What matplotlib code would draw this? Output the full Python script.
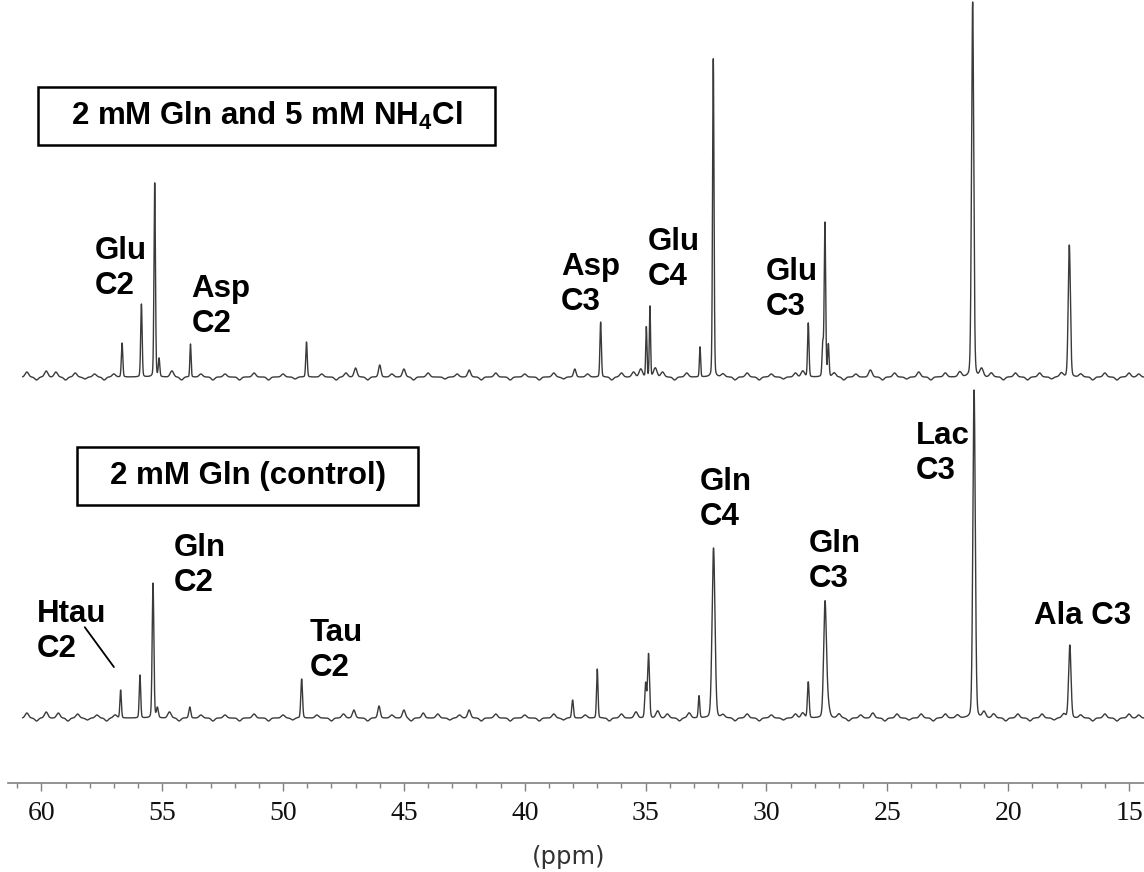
import numpy as np
import matplotlib
matplotlib.use("Agg")
import matplotlib.pyplot as plt
from matplotlib.patches import Rectangle
from matplotlib.ticker import MultipleLocator

# ---------------- data ----------------
# upper spectrum: 2 mM Gln and 5 mM NH4Cl
top_peak_ppm = [56.66, 55.86, 55.31, 55.13, 53.83, 49.03, 47.0, 46.0, 45.0, 42.3,
                37.93, 36.86, 34.97, 34.82, 32.75, 32.20, 28.27, 27.67, 27.58, 27.44,
                21.47, 17.47]
top_peak_int = [34, 73, 194, 18, 33, 35, 9, 12, 8, 7,
                8, 55, 50, 71, 30, 319, 54, 32, 154, 32,
                375, 132]
top_peak_w = [0.03, 0.03, 0.03, 0.03, 0.025, 0.03, 0.06, 0.05, 0.06, 0.06,
              0.05, 0.03, 0.025, 0.025, 0.025, 0.03, 0.03, 0.03, 0.03, 0.03,
              0.045, 0.045]
top_minor_ppm = [60.6, 60.2, 59.8, 59.4, 59.0, 58.6, 58.2, 57.8, 57.4, 57.0, 54.6, 54.2,
                 53.4, 52.9, 52.4, 51.8, 51.2, 50.6, 50.0, 49.5, 48.4, 47.8, 47.4, 46.5,
                 45.5, 44.6, 44.0, 43.3, 42.8, 41.8, 41.2, 40.6, 40.0, 39.4, 38.8, 38.4,
                 37.4, 36.4, 36.0, 35.5, 35.2, 34.6, 34.3, 33.8, 33.3, 31.8, 31.3, 30.8,
                 30.3, 29.8, 29.3, 28.8, 28.5, 27.2, 26.8, 26.3, 25.7, 25.2, 24.7, 24.2,
                 23.7, 23.2, 22.6, 22.0, 21.1, 20.7, 20.2, 19.7, 19.2, 18.7, 18.2, 17.8,
                 17.0, 16.5, 16.0, 15.5, 15.0, 14.6]
top_minor_int = [5, -3, 6, 5, -3, 4, -2, 3, -3, 3, 6, -3,
                 3, -3, 3, -3, 4, -3, 3, -2, 3, -3, 4, -3,
                 3, -3, 4, -2, 3, -3, 4, -3, 3, -3, 4, -2,
                 3, -3, 4, 5, 8, 9, 5, -3, 4, 3, -3, 4,
                 -3, 3, -2, 4, 6, 4, -3, 3, 7, -3, 4, -2,
                 5, -3, 4, 5, 8, 4, -3, 4, -3, 4, -2, 4,
                 3, -3, 4, -3, 4, 3]

# lower spectrum: 2 mM Gln (control)
bot_peak_ppm = [56.72, 55.92, 55.38, 55.20, 53.86, 49.23, 47.07, 46.03, 45.0, 44.2,
                42.3, 38.02, 37.0, 35.0, 34.88, 32.79, 32.19, 28.27, 27.58, 27.50,
                21.41, 17.45]
bot_peak_int = [28, 43, 135, 10, 11, 39, 8, 12, 8, 5,
                8, 18, 49, 34, 64, 22, 170, 36, 105, 20,
                328, 73]
bot_peak_w = [0.03, 0.03, 0.035, 0.04, 0.04, 0.035, 0.06, 0.05, 0.06, 0.06,
              0.06, 0.035, 0.03, 0.035, 0.04, 0.03, 0.06, 0.035, 0.055, 0.08,
              0.05, 0.05]
bot_minor_ppm = [60.6, 60.2, 59.8, 59.3, 58.9, 58.5, 58.1, 57.7, 57.3, 56.95, 54.7, 54.3,
                 53.4, 52.9, 52.4, 51.8, 51.2, 50.6, 50.0, 49.6, 48.6, 48.0, 47.5, 46.5,
                 45.5, 44.7, 43.6, 43.1, 42.7, 41.8, 41.2, 40.6, 40.0, 39.4, 38.8, 38.4,
                 37.5, 36.5, 36.0, 35.4, 34.5, 34.1, 33.6, 33.2, 31.8, 31.3, 30.8, 30.3,
                 29.8, 29.3, 28.8, 28.5, 27.0, 26.6, 26.1, 25.6, 25.1, 24.6, 24.1, 23.6,
                 23.1, 22.6, 22.1, 21.0, 20.6, 20.1, 19.6, 19.1, 18.6, 18.1, 17.7, 17.0,
                 16.5, 16.0, 15.5, 15.0, 14.6]
bot_minor_int = [5, -3, 6, 5, -3, 4, -2, 3, -3, 3, 6, -3,
                 3, -3, 3, -3, 4, -3, 3, -2, 3, -3, 4, -3,
                 3, -3, 4, -2, 3, -3, 4, -3, 3, -3, 4, -2,
                 3, -3, 4, 6, 7, 4, -3, 5, 3, -3, 4, -3,
                 3, -2, 4, 5, 4, -3, 3, 5, -3, 4, -2, 4,
                 -3, 4, 3, 6, 4, -3, 4, -3, 4, -2, 4, 3,
                 -3, 4, -3, 4, 3]

tick_values = [60, 55, 50, 45, 40, 35, 30, 25, 20, 15]

# label text, left edge (ppm), baseline of last line (intensity units)
top_labels = [("Glu\nC2", 57.79, 489), ("Asp\nC2", 53.79, 451), ("Asp\nC3", 38.51, 473),
              ("Glu\nC4", 34.92, 498), ("Glu\nC3", 30.02, 468)]
bot_labels = [("Htau\nC2", 60.18, 126), ("Gln\nC2", 54.52, 192), ("Tau\nC2", 48.89, 107),
              ("Gln\nC4", 32.78, 258), ("Gln\nC3", 28.23, 196), ("Lac\nC3", 23.81, 304),
              ("Ala C3", 18.93, 159)]

# ---------------- drawing ----------------
W, H = 1144, 872
fig = plt.figure(figsize=(W / 100, H / 100), dpi=100)
fig.patch.set_facecolor("white")

axis_px = 783
ax = fig.add_axes([8 / W, (H - axis_px) / H, (W - 8) / W, axis_px / H])
ax.set_xlim(61.38, 14.38)
ax.set_ylim(0, axis_px)

ppm = np.arange(60.77, 14.38, -0.004)


def lineshape(p, h, s, eta=0.15):
    g = np.exp(-0.5 * ((ppm - p) / s) ** 2)
    gam = 1.1774 * s
    lor = gam * gam / ((ppm - p) ** 2 + gam * gam)
    return h * ((1 - eta) * g + eta * lor)


def spectrum(pos, inten, wid, mpos, mint, mwid=0.07):
    y = np.zeros_like(ppm)
    for p, h, s in zip(pos, inten, wid):
        y += lineshape(p, h, s)
    for p, h in zip(mpos, mint):
        y += lineshape(p, h, mwid, eta=0.0)
    return y


top_base = 406
bot_base = 65
line_col = "#3a3a3a"
ax.plot(ppm, top_base + spectrum(top_peak_ppm, top_peak_int, top_peak_w, top_minor_ppm, top_minor_int),
        color=line_col, lw=1.0, clip_on=False)
ax.plot(ppm, bot_base + spectrum(bot_peak_ppm, bot_peak_int, bot_peak_w, bot_minor_ppm, bot_minor_int),
        color=line_col, lw=1.0, clip_on=False)

for sp in ["top", "left", "right"]:
    ax.spines[sp].set_visible(False)
ax.spines["bottom"].set_color("#808080")
ax.spines["bottom"].set_linewidth(1.2)
ax.set_yticks([])
ax.set_xticks(tick_values)
ax.set_xticklabels([str(v) for v in tick_values], fontfamily="Liberation Serif", fontsize=20, color="#111111")
ax.xaxis.set_minor_locator(MultipleLocator(1))
ax.tick_params(axis="x", which="major", length=6, width=1, color="#808080", pad=7)
ax.tick_params(axis="x", which="minor", length=3.5, width=1, color="#808080")
ax.patch.set_alpha(0)

fig.text(569 / W, 1 - 857 / H, "(ppm)", fontfamily="DejaVu Sans", fontsize=17.5, color="#333333",
         ha="center", va="center")

lab_kw = dict(fontfamily="Liberation Sans", fontweight="bold", fontsize=22.5, color="black",
              ha="left", va="baseline", linespacing=1.2)
for txt, x, y in top_labels + bot_labels:
    ax.text(x, y, txt, **lab_kw)

# Htau pointer line
ax.annotate("", xy=(56.93, 113.7), xytext=(58.27, 158.0),
            arrowprops=dict(arrowstyle="-", color="black", lw=1.3))

# sample boxes
plt.rcParams["mathtext.fontset"] = "custom"
plt.rcParams["mathtext.rm"] = "Liberation Sans:bold"
plt.rcParams["mathtext.bf"] = "Liberation Sans:bold"
plt.rcParams["mathtext.it"] = "Liberation Sans:bold"


def box(x0, y0, x1, y1, text):
    fig.patches.append(Rectangle((x0 / W, 1 - y1 / H), (x1 - x0) / W, (y1 - y0) / H,
                                 transform=fig.transFigure, fill=False, ec="black", lw=1.8))
    fig.text((x0 + x1) / 2 / W, 1 - (y0 + y1) / 2 / H, text, fontfamily="Liberation Sans",
             fontweight="bold", fontsize=22.5, ha="center", va="center")


box(38, 87, 495, 145, r"2 mM Gln and 5 mM NH$_{\mathrm{4}}$Cl")
box(77, 447, 418, 505, "2 mM Gln (control)")

fig.savefig("out.png", dpi=100)
